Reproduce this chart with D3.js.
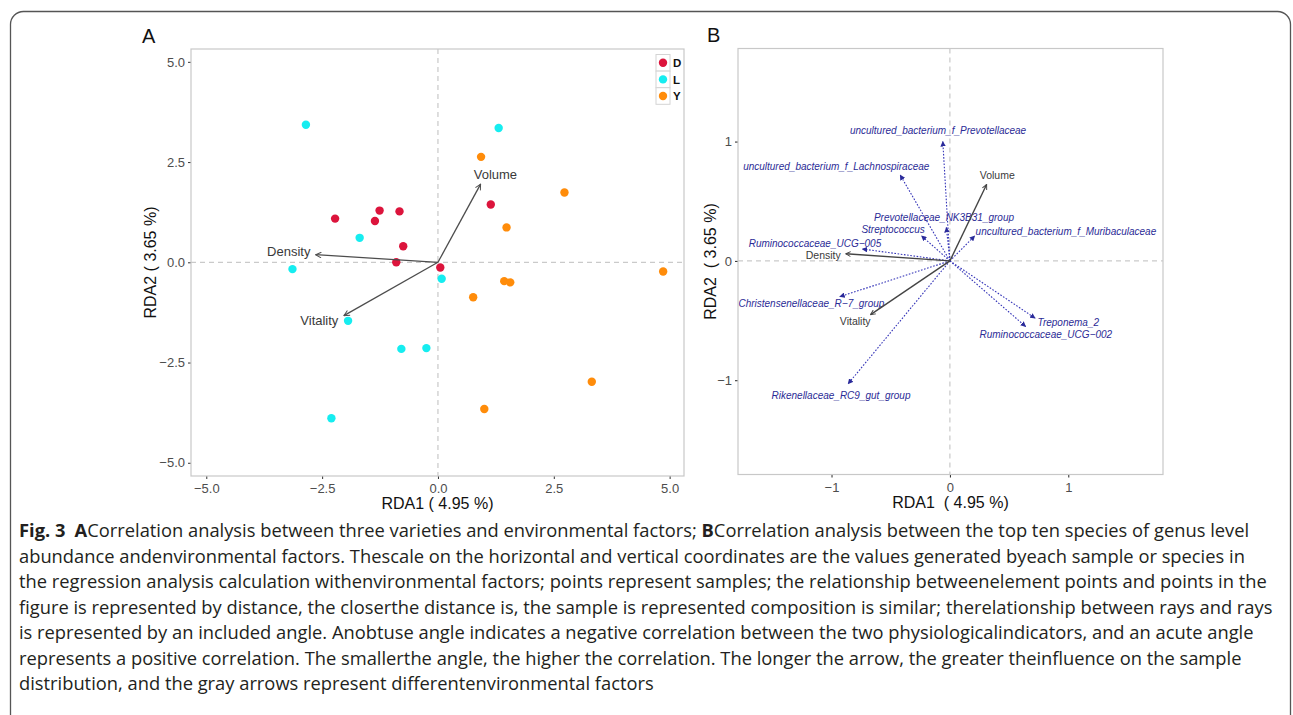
<!DOCTYPE html>
<html><head><meta charset="utf-8">
<script src="https://cdn.jsdelivr.net/npm/d3@7"></script>
<style>body{margin:0;background:#fff} svg{display:block}</style>
</head><body>
<svg id="c" width="1293" height="715"></svg>
<script>
// ---------- Panel A data ----------
const groups = ["D", "L", "Y"];
const groupColors = ["#DC143C", "#16EDF0", "#FF8C0A"];
const dX = [1.14, -2.22, -1.26, -0.83, -1.36, -0.75, -0.90, 0.05];
const dY = [1.44, 1.09, 1.29, 1.27, 1.03, 0.40, 0.00, -0.13];
const lX = [-2.85, 1.31, -1.69, -3.14, 0.08, -1.94, -0.79, -0.25, -2.30];
const lY = [3.43, 3.35, 0.61, -0.17, -0.41, -1.46, -2.16, -2.14, -3.89];
const yX = [0.93, 2.73, 1.48, 1.43, 1.56, 0.76, 4.86, 3.32, 1.00];
const yY = [2.63, 1.74, 0.87, -0.47, -0.50, -0.87, -0.23, -2.98, -3.66];

const envNames = ["Volume", "Density", "Vitality"];
const envAX = [0.92, -2.64, -2.03];
const envAY = [1.95, 0.19, -1.33];
const envALabX = [1.24, -3.22, -2.56];
const envALabY = [2.20, 0.26, -1.44];
const ticksA = [-5, -2.5, 0, 2.5, 5];

// ---------- Panel B data ----------
const envBX = [0.31, -0.88, -0.67];
const envBY = [0.64, 0.06, -0.45];
const envBLabX = [0.40, -1.07, -0.80];
const envBLabY = [0.72, 0.05, -0.51];

const species = ["uncultured_bacterium_f_Prevotellaceae", "uncultured_bacterium_f_Lachnospiraceae",
  "Prevotellaceae_NK3B31_group", "Streptococcus", "uncultured_bacterium_f_Muribaculaceae",
  "Ruminococcaceae_UCG\u2212005", "Christensenellaceae_R\u22127_group", "Treponema_2",
  "Ruminococcaceae_UCG\u2212002", "Rikenellaceae_RC9_gut_group"];
const spX = [-0.06, -0.42, -0.03, -0.24, 0.21, -0.74, -0.93, 0.72, 0.64, -0.86];
const spY = [1.00, 0.72, 0.28, 0.21, 0.21, 0.10, -0.30, -0.48, -0.55, -1.03];
const spLabX = [-0.10, -0.96, -0.05, -0.48, 0.98, -1.14, -1.17, 1.00, 0.81, -0.92];
const spLabY = [1.09, 0.79, 0.36, 0.26, 0.25, 0.15, -0.36, -0.52, -0.62, -1.13];
const ticksB = [-1, 0, 1];

const captionLines = [
  null,
  "abundance andenvironmental factors. Thescale on the horizontal and vertical coordinates are the values generated byeach sample or species in",
  "the regression analysis calculation withenvironmental factors; points represent samples; the relationship betweenelement points and points in the",
  "figure is represented by distance, the closerthe distance is, the sample is represented composition is similar; therelationship between rays and rays",
  "is represented by an included angle. Anobtuse angle indicates a negative correlation between the two physiologicalindicators, and an acute angle",
  "represents a positive correlation. The smallerthe angle, the higher the correlation. The longer the arrow, the greater theinfluence on the sample",
  "distribution, and the gray arrows represent differentenvironmental factors"
];

const FONT = "'Liberation Sans', Arial, Helvetica, sans-serif";
const svg = d3.select("#c");

// markers
const defs = svg.append("defs");
defs.append("marker").attr("id", "openA").attr("viewBox", "0 0 10 10")
  .attr("refX", 9).attr("refY", 5).attr("markerWidth", 7).attr("markerHeight", 7)
  .attr("markerUnits", "userSpaceOnUse").attr("orient", "auto")
  .append("path").attr("d", "M1,1 L9,5 L1,9").attr("fill", "none").attr("stroke", "#4d4d4d").attr("stroke-width", 1.4);
defs.append("marker").attr("id", "openB").attr("viewBox", "0 0 10 10")
  .attr("refX", 9).attr("refY", 5).attr("markerWidth", 6).attr("markerHeight", 6)
  .attr("markerUnits", "userSpaceOnUse").attr("orient", "auto")
  .append("path").attr("d", "M1,1 L9,5 L1,9").attr("fill", "none").attr("stroke", "#444").attr("stroke-width", 1.6);
defs.append("marker").attr("id", "blueHead").attr("viewBox", "0 0 10 10")
  .attr("refX", 9).attr("refY", 5).attr("markerWidth", 5.5).attr("markerHeight", 5.5)
  .attr("markerUnits", "userSpaceOnUse").attr("orient", "auto")
  .append("path").attr("d", "M0,0 L10,5 L0,10 Z").attr("fill", "#2a2a9a");

// outer frame
svg.append("rect").attr("x", 10.5).attr("y", 11.5).attr("width", 1280).attr("height", 760)
  .attr("rx", 13).attr("fill", "none").attr("stroke", "#555").attr("stroke-width", 1.3);

function styleAxis(g, tickColor) {
  g.select(".domain").remove();
  g.selectAll(".tick line").attr("stroke", tickColor).attr("stroke-width", 1);
  g.selectAll(".tick text").attr("fill", "#4d4d4d").attr("font-size", 13).attr("font-family", FONT);
}

// ================= Panel A =================
const xA = d3.scaleLinear().domain([-5.33, 5.31]).range([191, 684]);
const yA = d3.scaleLinear().domain([-5.33, 5.32]).range([476, 49]);
const gA = svg.append("g");

gA.append("line").attr("x1", xA(0)).attr("x2", xA(0)).attr("y1", yA.range()[1]).attr("y2", yA.range()[0])
  .attr("stroke", "#bdbdbd").attr("stroke-dasharray", "5,4");
gA.append("line").attr("y1", yA(0)).attr("y2", yA(0)).attr("x1", xA.range()[0]).attr("x2", xA.range()[1])
  .attr("stroke", "#bdbdbd").attr("stroke-dasharray", "5,4");

const fmtA = d3.format(".1f");
gA.append("g").attr("transform", `translate(0,${yA.range()[0]})`)
  .call(d3.axisBottom(xA).tickValues(ticksA).tickFormat(fmtA).tickSize(3).tickPadding(5))
  .call(g => styleAxis(g, "#333"));
gA.append("g").attr("transform", `translate(${xA.range()[0]},0)`)
  .call(d3.axisLeft(yA).tickValues(ticksA).tickFormat(fmtA).tickSize(3).tickPadding(3))
  .call(g => styleAxis(g, "#333"));

const ptsA = [];
[[dX, dY], [lX, lY], [yX, yY]].forEach((arr, gi) => arr[0].forEach((v, i) => ptsA.push({x: v, y: arr[1][i], g: gi})));
gA.selectAll("circle.pt").data(ptsA).enter().append("circle").attr("class", "pt")
  .attr("cx", d => xA(d.x)).attr("cy", d => yA(d.y)).attr("r", 4.2)
  .attr("fill", d => groupColors[d.g]);

envNames.forEach((n, i) => {
  gA.append("line").attr("x1", xA(0)).attr("y1", yA(0)).attr("x2", xA(envAX[i])).attr("y2", yA(envAY[i]))
    .attr("stroke", "#4d4d4d").attr("stroke-width", 1.3).attr("marker-end", "url(#openA)");
  gA.append("text").attr("x", xA(envALabX[i])).attr("y", yA(envALabY[i])).attr("dy", "0.35em")
    .attr("text-anchor", "middle").attr("font-family", FONT).attr("font-size", 13)
    .attr("fill", "#3a3a3a").text(n);
});

gA.append("rect").attr("x", xA.range()[0]).attr("y", yA.range()[1])
  .attr("width", xA.range()[1] - xA.range()[0]).attr("height", yA.range()[0] - yA.range()[1])
  .attr("fill", "none").attr("stroke", "#c8c8c8").attr("stroke-width", 1.2);

// legend
const legG = gA.append("g");
groups.forEach((g, i) => {
  const ky = 54.5 + i * 16.6;
  legG.append("rect").attr("x", 656).attr("y", ky).attr("width", 14).attr("height", 16.6)
    .attr("fill", "#fff").attr("stroke", "#d4d4d4").attr("stroke-width", 1);
  legG.append("circle").attr("cx", 663).attr("cy", ky + 8.3).attr("r", 4.2).attr("fill", groupColors[i]);
  legG.append("text").attr("x", 673).attr("y", ky + 8.3).attr("dy", "0.36em")
    .attr("font-family", FONT).attr("font-size", 11.5).attr("font-weight", "bold").attr("fill", "#111").text(g);
});

svg.append("text").attr("x", 142).attr("y", 43).attr("font-family", FONT).attr("font-size", 20).attr("fill", "#111").text("A");
svg.append("text").attr("x", (xA.range()[0] + xA.range()[1]) / 2).attr("y", 509).attr("text-anchor", "middle")
  .attr("font-family", FONT).attr("font-size", 16).attr("fill", "#111").style("white-space", "pre").text("RDA1 ( 4.95 %)");
svg.append("text").attr("transform", `translate(156,${(yA.range()[0] + yA.range()[1]) / 2}) rotate(-90)`)
  .attr("text-anchor", "middle").attr("font-family", FONT).attr("font-size", 16).attr("fill", "#111")
  .style("white-space", "pre").text("RDA2 ( 3.65 %)");

// ================= Panel B =================
const xB = d3.scaleLinear().domain([-1.79, 1.80]).range([738, 1163]);
const yB = d3.scaleLinear().domain([-1.79, 1.78]).range([474.5, 48.5]);
const gB = svg.append("g");

gB.append("line").attr("x1", xB(0)).attr("x2", xB(0)).attr("y1", yB.range()[1]).attr("y2", yB.range()[0])
  .attr("stroke", "#bdbdbd").attr("stroke-dasharray", "5,4");
gB.append("line").attr("y1", yB(0)).attr("y2", yB(0)).attr("x1", xB.range()[0]).attr("x2", xB.range()[1])
  .attr("stroke", "#bdbdbd").attr("stroke-dasharray", "5,4");

const fmtB = d3.format("d");
gB.append("g").attr("transform", `translate(0,${yB.range()[0]})`)
  .call(d3.axisBottom(xB).tickValues(ticksB).tickFormat(fmtB).tickSize(3).tickPadding(5))
  .call(g => styleAxis(g, "#222"));
gB.append("g").attr("transform", `translate(${xB.range()[0]},0)`)
  .call(d3.axisLeft(yB).tickValues(ticksB).tickFormat(fmtB).tickSize(3).tickPadding(3))
  .call(g => styleAxis(g, "#222"));

species.forEach((s, i) => {
  gB.append("line").attr("x1", xB(0)).attr("y1", yB(0)).attr("x2", xB(spX[i])).attr("y2", yB(spY[i]))
    .attr("stroke", "#3535b8").attr("stroke-width", 1.1).attr("stroke-dasharray", "1.6,1.6")
    .attr("marker-end", "url(#blueHead)");
  gB.append("text").attr("x", xB(spLabX[i])).attr("y", yB(spLabY[i])).attr("dy", "0.35em")
    .attr("text-anchor", "middle").attr("font-family", FONT).attr("font-size", 10)
    .attr("font-style", "italic").attr("fill", "#2b2b96").text(s);
});

envNames.forEach((n, i) => {
  gB.append("line").attr("x1", xB(0)).attr("y1", yB(0)).attr("x2", xB(envBX[i])).attr("y2", yB(envBY[i]))
    .attr("stroke", "#444").attr("stroke-width", 1.4).attr("marker-end", "url(#openB)");
  gB.append("text").attr("x", xB(envBLabX[i])).attr("y", yB(envBLabY[i])).attr("dy", "0.35em")
    .attr("text-anchor", "middle").attr("font-family", FONT).attr("font-size", 10.5)
    .attr("fill", "#3a3a3a").text(n);
});

gB.append("rect").attr("x", xB.range()[0]).attr("y", yB.range()[1])
  .attr("width", xB.range()[1] - xB.range()[0]).attr("height", yB.range()[0] - yB.range()[1])
  .attr("fill", "none").attr("stroke", "#c8c8c8").attr("stroke-width", 1.2);

svg.append("text").attr("x", 707).attr("y", 42).attr("font-family", FONT).attr("font-size", 20).attr("fill", "#111").text("B");
svg.append("text").attr("x", (xB.range()[0] + xB.range()[1]) / 2).attr("y", 508).attr("text-anchor", "middle")
  .attr("font-family", FONT).attr("font-size", 16).attr("fill", "#111").style("white-space", "pre").text("RDA1  ( 4.95 %)");
svg.append("text").attr("transform", `translate(716,${(yB.range()[0] + yB.range()[1]) / 2}) rotate(-90)`)
  .attr("text-anchor", "middle").attr("font-family", FONT).attr("font-size", 16).attr("fill", "#111")
  .style("white-space", "pre").text("RDA2  ( 3.65 %)");

// ================= Caption =================
const CAPF = "'Open Sans', Lato, sans-serif";
const cap = svg.append("g").attr("font-family", CAPF).attr("fill", "#231f20");
const capTexts = [];
const l1 = cap.append("text").attr("x", 19).attr("y", 537);
l1.append("tspan").attr("font-weight", "bold").text("Fig. 3");
l1.append("tspan").text("\u2002");
l1.append("tspan").attr("font-weight", "bold").text("A");
l1.append("tspan").text("Correlation analysis between three varieties and environmental factors; ");
l1.append("tspan").attr("font-weight", "bold").text("B");
l1.append("tspan").text("Correlation analysis between the top ten species of genus level");
capTexts.push(l1);
captionLines.forEach((t, i) => {
  if (!t) return;
  capTexts.push(cap.append("text").attr("x", 19).attr("y", 537 + i * 25.5).text(t));
});
// fit caption font so the longest line reaches the frame margin like the original
capTexts.forEach(t => t.attr("font-size", 17));
const refLen = capTexts[3].node().getComputedTextLength();
const capSize = Math.min(19, 17 * 1254 / refLen);
capTexts.forEach(t => t.attr("font-size", capSize));
</script>
</body></html>
